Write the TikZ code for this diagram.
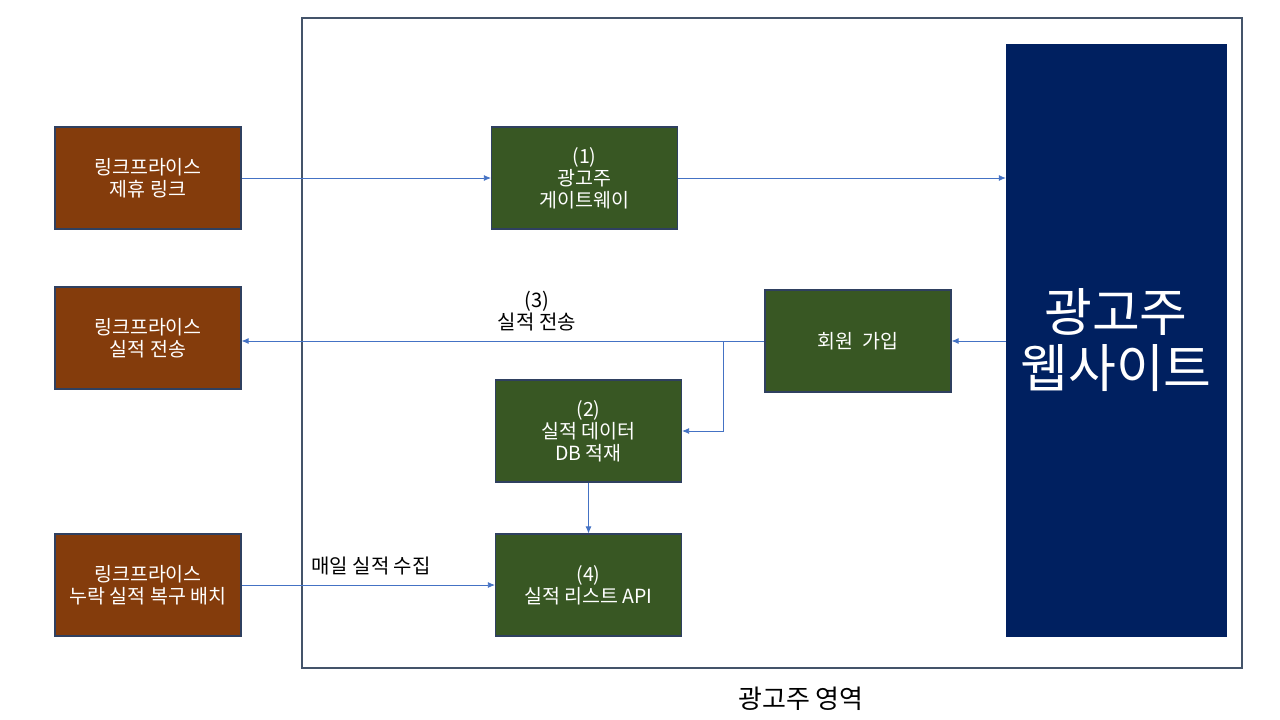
\documentclass[tikz,border=0pt]{standalone}
\usepackage{fontspec}
\setmainfont{Noto Sans CJK KR}
\usetikzlibrary{arrows.meta}
\definecolor{linkbrown}{HTML}{843C0C}
\definecolor{adgreen}{HTML}{385723}
\definecolor{adnavy}{HTML}{002060}
\definecolor{boxline}{HTML}{2F4060}
\definecolor{regionline}{HTML}{44546A}
\definecolor{flowblue}{HTML}{4472C4}
\begin{document}
\begin{tikzpicture}[x=1pt,y=-1pt,
    box/.style={draw=boxline, line width=1.2pt, text=white, align=center,
        minimum width=186pt, minimum height=102pt,
        font=\fontsize{19.5}{22}\selectfont},
    linkbox/.style={box, fill=linkbrown},
    adbox/.style={box, fill=adgreen},
    flow/.style={draw=flowblue, line width=0.8pt, -{Latex[length=7pt,width=6pt]}},
    note/.style={align=center, font=\fontsize{20}{22}\selectfont}]
    \useasboundingbox (0,0) rectangle (1280,720);
    % advertiser region
    \draw[regionline, line width=1.5pt] (302,18) rectangle (1242,668);
    \node[font=\fontsize{26}{30}\selectfont] (region) at (801,699) {광고주 영역};
    % linkprice side
    \node[linkbox] (link) at (148,178) {링크프라이스\\제휴 링크};
    \node[linkbox] (send) at (148,338) {링크프라이스\\실적 전송};
    \node[linkbox] (batch) at (148,585) {링크프라이스\\누락 실적 복구 배치};
    % advertiser side
    \node[adbox] (gate) at (584.5,178) {(1)\\광고주\\게이트웨이};
    \node[adbox] (join) at (858,341) {회원\ \ 가입};
    \node[adbox] (db) at (588.5,431) {(2)\\실적 데이터\\DB 적재};
    \node[adbox] (api) at (588.5,585) {(4)\\실적 리스트 API};
    \node[draw=adnavy, fill=adnavy, text=white, align=center,
        minimum width=220pt, minimum height=592pt,
        font=\fontsize{52}{56}\selectfont] (site) at (1116,340) {광고주\\웹사이트};
    % flows
    \draw[flow] (link) -- (gate);
    \draw[flow] (gate) -- (gate -| site.west);
    \draw[flow] (site.west |- join) -- (join);
    \draw[flow] (join) -- (join -| send.east);
    \coordinate (split) at (723,341);
    \draw[flow] (split) |- (db);
    \draw[flow] (db) -- (api);
    \draw[flow] (batch) -- (api);
    \node[note] (sendnote) at (537,311) {(3)\\실적 전송};
    \node[note] (dailynote) at (371,566) {매일 실적 수집};
\end{tikzpicture}
\end{document}
